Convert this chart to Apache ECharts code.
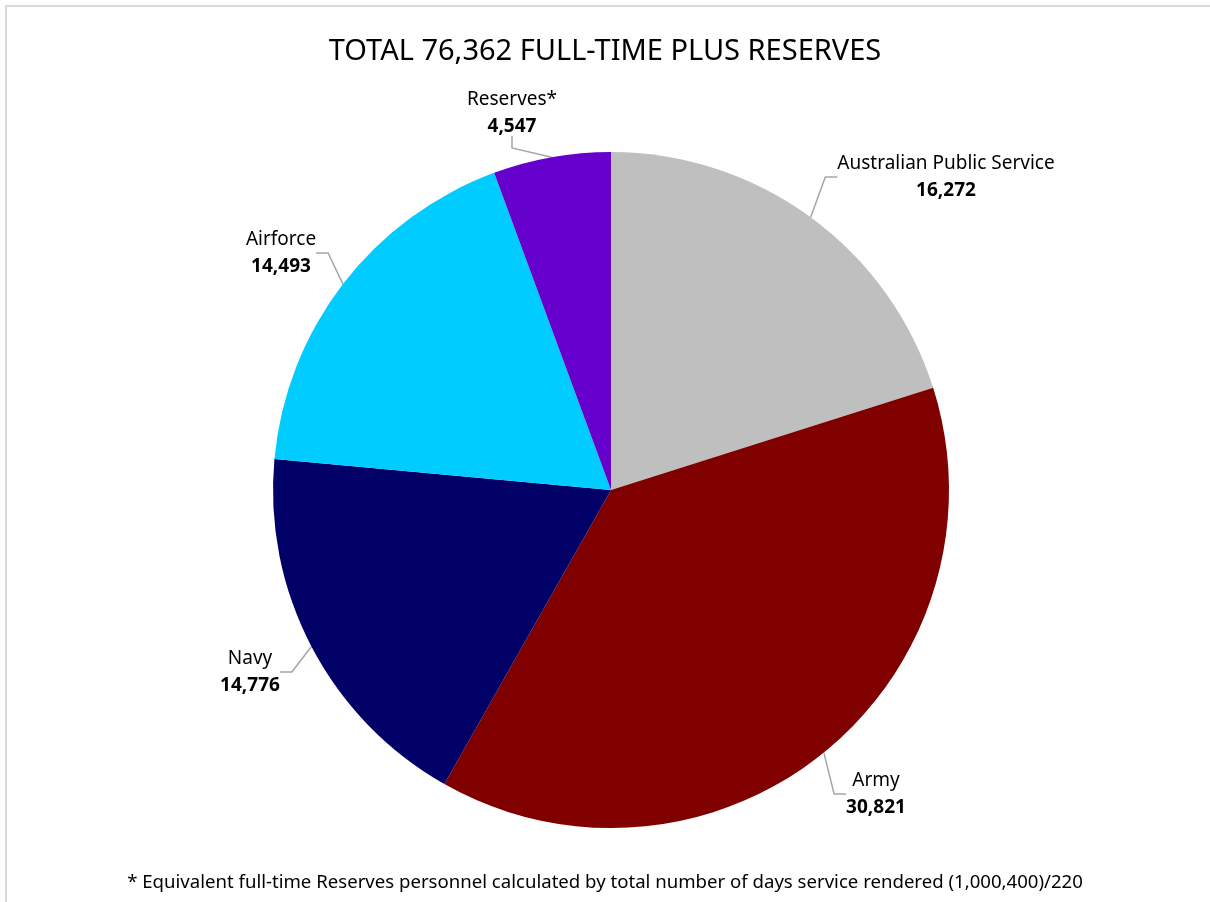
<!DOCTYPE html>
<html><head><meta charset="utf-8">
<script src="https://cdn.jsdelivr.net/npm/echarts@6/dist/echarts.min.js"></script>
<style>html,body{margin:0;padding:0;background:#fff}#c{width:1210px;height:902px}</style>
</head><body><div id="c"></div>
<script>
const categories = ['Australian Public Service', 'Army', 'Navy', 'Airforce', 'Reserves*'];
const values = [16272, 30821, 14776, 14493, 4547];
const colors = ['#BFBFBF', '#800000', '#000066', '#00CCFF', '#6600CC'];
const titleText = 'TOTAL 76,362 FULL-TIME PLUS RESERVES';
const footnote = '* Equivalent full-time Reserves personnel calculated by total number of days service rendered (1,000,400)/220';
// label centre positions (layout only)
const labelPos = [[946, 177], [876, 794], [250, 672], [281, 253], [512, 113]];

const FONT = '"Source Sans Pro", "Noto Sans", sans-serif';
const chart = echarts.init(document.getElementById('c'), null, {renderer: 'canvas'});
chart.setOption({
  backgroundColor: '#fff',
  animation: false,
  title: {
    text: titleText, left: 'center', top: 32,
    textStyle: {fontFamily: FONT, fontSize: 29, fontWeight: 'normal', color: '#000'}
  },
  graphic: [
    {type: 'rect', shape: {x: 6, y: 6, width: 1260, height: 960}, style: {fill: 'none', stroke: '#D9D9D9', lineWidth: 2}, silent: true},
    {type: 'text', left: 'center', top: 873, style: {text: footnote, font: '18.6px ' + FONT, fill: '#000'}}
  ],
  series: [{
    type: 'pie',
    center: [611, 490],
    radius: [0, 338],
    startAngle: 90,
    clockwise: true,
    data: categories.map((n, i) => ({name: n, value: values[i], itemStyle: {color: colors[i]}})),
    label: {
      show: true,
      formatter: p => '{n|' + p.name + '}\n{v|' + p.value.toLocaleString('en-US') + '}',
      align: 'center',
      rich: {
        n: {fontFamily: FONT, fontSize: 19, color: '#000', lineHeight: 27, align: 'center'},
        v: {fontFamily: FONT, fontSize: 19, fontWeight: 'bold', color: '#000', lineHeight: 27, align: 'center'}
      }
    },
    labelLine: {show: true, length: 15, length2: 12, lineStyle: {color: '#A6A6A6', width: 1.5}},
    labelLayout: p => ({x: labelPos[p.dataIndex][0], y: labelPos[p.dataIndex][1], align: 'center', verticalAlign: 'middle'}),
    emphasis: {disabled: true}
  }]
});
</script></body></html>
